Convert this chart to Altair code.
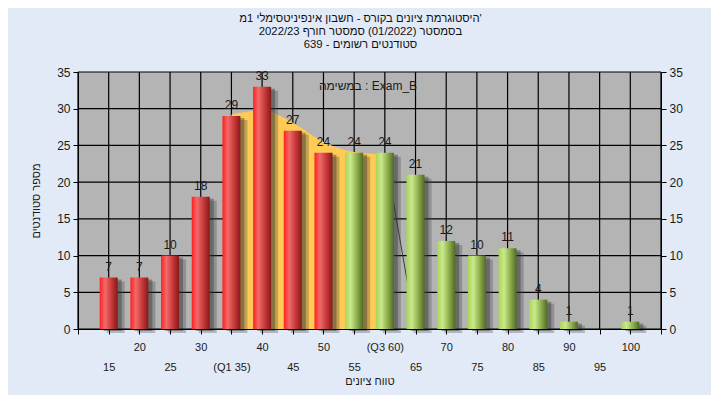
import altair as alt
import pandas as pd

# ---------------- data ----------------
grades = [15, 20, 25, 30, 35, 40, 45, 50, 55, 60, 65, 70, 75, 80, 85, 90, 95, 100]
counts = [7, 7, 10, 18, 29, 33, 27, 24, 24, 24, 21, 12, 10, 11, 4, 1, 0, 1]
red_limit = 50  # grades up to this value are drawn red, above green

area_x = [35, 40, 45, 50, 55, 60]
area_y = [29.2, 29.8, 28.1, 25.5, 24.1, 23.8]
drop_x = [60, 65]
drop_y = [24, 0]

grid_x = list(range(10, 106, 5))
grid_y = list(range(0, 36, 5))

row1_vals = [20, 30, 40, 50, 60, 70, 80, 90, 100]
row1_labels = ["20", "30", "40", "50", "(Q3 60)", "70", "80", "90", "100"]
row2_vals = [15, 25, 35, 45, 55, 65, 75, 85, 95]
row2_labels = ["15", "25", "(Q1 35)", "45", "55", "65", "75", "85", "95"]

title_lines = [
    "היסטוגרמת ציונים בקורס - חשבון אינפיניטסימלי 1מ'",
    "בסמסטר  (01/2022)  סמסטר חורף 2022/23",
    "סטודנטים רשומים - 639",
]
legend_text = "במשימה : Exam_B"
x_title = "טווח ציונים"
y_title = "מספר סטודנטים"

# ---------------- tables ----------------
bars = pd.DataFrame({"grade": grades, "count": counts})
bars = bars[bars["count"] > 0]
red = bars[bars["grade"] <= red_limit]
green = bars[bars["grade"] > red_limit]
area_df = pd.DataFrame({"grade": area_x, "v": area_y})
drop_df = pd.DataFrame({"grade": drop_x, "v": drop_y})
gx_df = pd.DataFrame({"g": grid_x})
gy_df = pd.DataFrame({"g": grid_y})

W, H = 583, 257
PL, PT, PR, PB = 70, 64, 50, 66
FONT = "Liberation Sans, DejaVu Sans, Arial"

xs = alt.Scale(domain=[10, 105], nice=False, zero=False, padding=0)
ys = alt.Scale(domain=[0, 35], nice=False, zero=True, padding=0)


def label_expr(vals, labels):
    e = "''"
    for v, l in reversed(list(zip(vals, labels))):
        e = f"datum.value == {v} ? '{l}' : ({e})"
    return e


axis_common = dict(
    domainColor="#000000", tickColor="#000000", labelColor="#1a1a1a",
    labelFont=FONT, titleFont=FONT, titleColor="#1a1a1a",
    titleFontWeight="normal", grid=False, labelOverlap=False, zindex=1,
)

x_axis1 = alt.Axis(values=grid_x, labelExpr=label_expr(row1_vals, row1_labels),
                   tickSize=5, labelPadding=7, labelFontSize=11, title=None,
                   orient="bottom", **axis_common)
x_axis2 = alt.Axis(values=row2_vals, labelExpr=label_expr(row2_vals, row2_labels),
                   ticks=False, domain=False, labelPadding=32, labelFontSize=11,
                   title=x_title, titleFontSize=11, titlePadding=3,
                   orient="bottom", **axis_common)
y_left = alt.Axis(values=grid_y, tickSize=5, labelPadding=3, labelFontSize=12,
                  title=y_title, titleFontSize=11, titlePadding=15,
                  orient="left", **axis_common)
y_right = alt.Axis(values=grid_y, tickSize=5, labelPadding=3, labelFontSize=12,
                   title=None, orient="right", **axis_common)

vgrid = alt.Chart(gx_df).mark_rule(color="#000000", strokeWidth=1.2).encode(
    x=alt.X("g:Q", scale=xs, axis=None), y=alt.value(0), y2=alt.value(H))
hgrid = alt.Chart(gy_df).mark_rule(color="#000000", strokeWidth=1.2).encode(
    y=alt.Y("g:Q", scale=ys, axis=None), x=alt.value(0), x2=alt.value(W))

area = alt.Chart(area_df).mark_area(color="#ffca55", interpolate="monotone").encode(
    x=alt.X("grade:Q", scale=xs, axis=None), y=alt.Y("v:Q", scale=ys, axis=None))
drop = alt.Chart(drop_df).mark_line(color="#3c3c3c", strokeWidth=1).encode(
    x=alt.X("grade:Q", scale=xs, axis=None), y=alt.Y("v:Q", scale=ys, axis=None))

shadow1 = alt.Chart(bars).mark_bar(width=18, color="#404040", opacity=0.3,
                                   xOffset=7, yOffset=4).encode(
    x=alt.X("grade:Q", scale=xs, axis=None), y=alt.Y("count:Q", scale=ys, axis=None))
shadow2 = alt.Chart(bars).mark_bar(width=18, color="#303030", opacity=0.4,
                                   xOffset=4, yOffset=2).encode(
    x=alt.X("grade:Q", scale=xs, axis=None), y=alt.Y("count:Q", scale=ys, axis=None))

red_grad = alt.LinearGradient(gradient="linear", x1=0, x2=1, y1=0, y2=0, stops=[
    alt.GradientStop(color="#ff2020", offset=0),
    alt.GradientStop(color="#f06a6a", offset=0.3),
    alt.GradientStop(color="#c83a3a", offset=0.65),
    alt.GradientStop(color="#861818", offset=1)])
green_grad = alt.LinearGradient(gradient="linear", x1=0, x2=1, y1=0, y2=0, stops=[
    alt.GradientStop(color="#a9d553", offset=0),
    alt.GradientStop(color="#c9e98c", offset=0.3),
    alt.GradientStop(color="#8fae4c", offset=0.65),
    alt.GradientStop(color="#4f6b25", offset=1)])

red_bars = alt.Chart(red).mark_bar(width=18, fill=red_grad).encode(
    x=alt.X("grade:Q", scale=xs, axis=x_axis1),
    y=alt.Y("count:Q", scale=ys, axis=y_left))
green_bars = alt.Chart(green).mark_bar(width=18, fill=green_grad).encode(
    x=alt.X("grade:Q", scale=xs, axis=x_axis2),
    y=alt.Y("count:Q", scale=ys, axis=y_right))

labels = alt.Chart(bars).mark_text(baseline="bottom", dy=-4, fontSize=12,
                                   font=FONT, color="#1a1a1a").encode(
    x=alt.X("grade:Q", scale=xs, axis=None),
    y=alt.Y("count:Q", scale=ys, axis=None),
    text="count:Q")

legend = alt.Chart(pd.DataFrame({"t": [legend_text]})).mark_text(
    fontSize=12, font=FONT, color="#1a1a1a", align="center", baseline="middle").encode(
    x=alt.value(290), y=alt.value(14), text="t:N")

chart = alt.layer(
    vgrid, hgrid, area, drop, shadow1, shadow2,
    red_bars, green_bars, labels, legend
).resolve_axis(x="independent", y="independent").properties(
    width=W, height=H,
    autosize=alt.AutoSizeParams(type="none"),
    padding={"left": PL, "top": PT, "right": PR, "bottom": PB},
    background="#e1eaf6",
    title=alt.TitleParams(text=title_lines, fontSize=11.3, fontWeight="normal",
                          font=FONT, color="#111111", lineHeight=13,
                          anchor="middle", frame="group", dx=-9, offset=16),
).configure_view(stroke=None, fill="#b4b4b4")

chart.save("out.html", embed_options={"renderer": "svg", "actions": False})
